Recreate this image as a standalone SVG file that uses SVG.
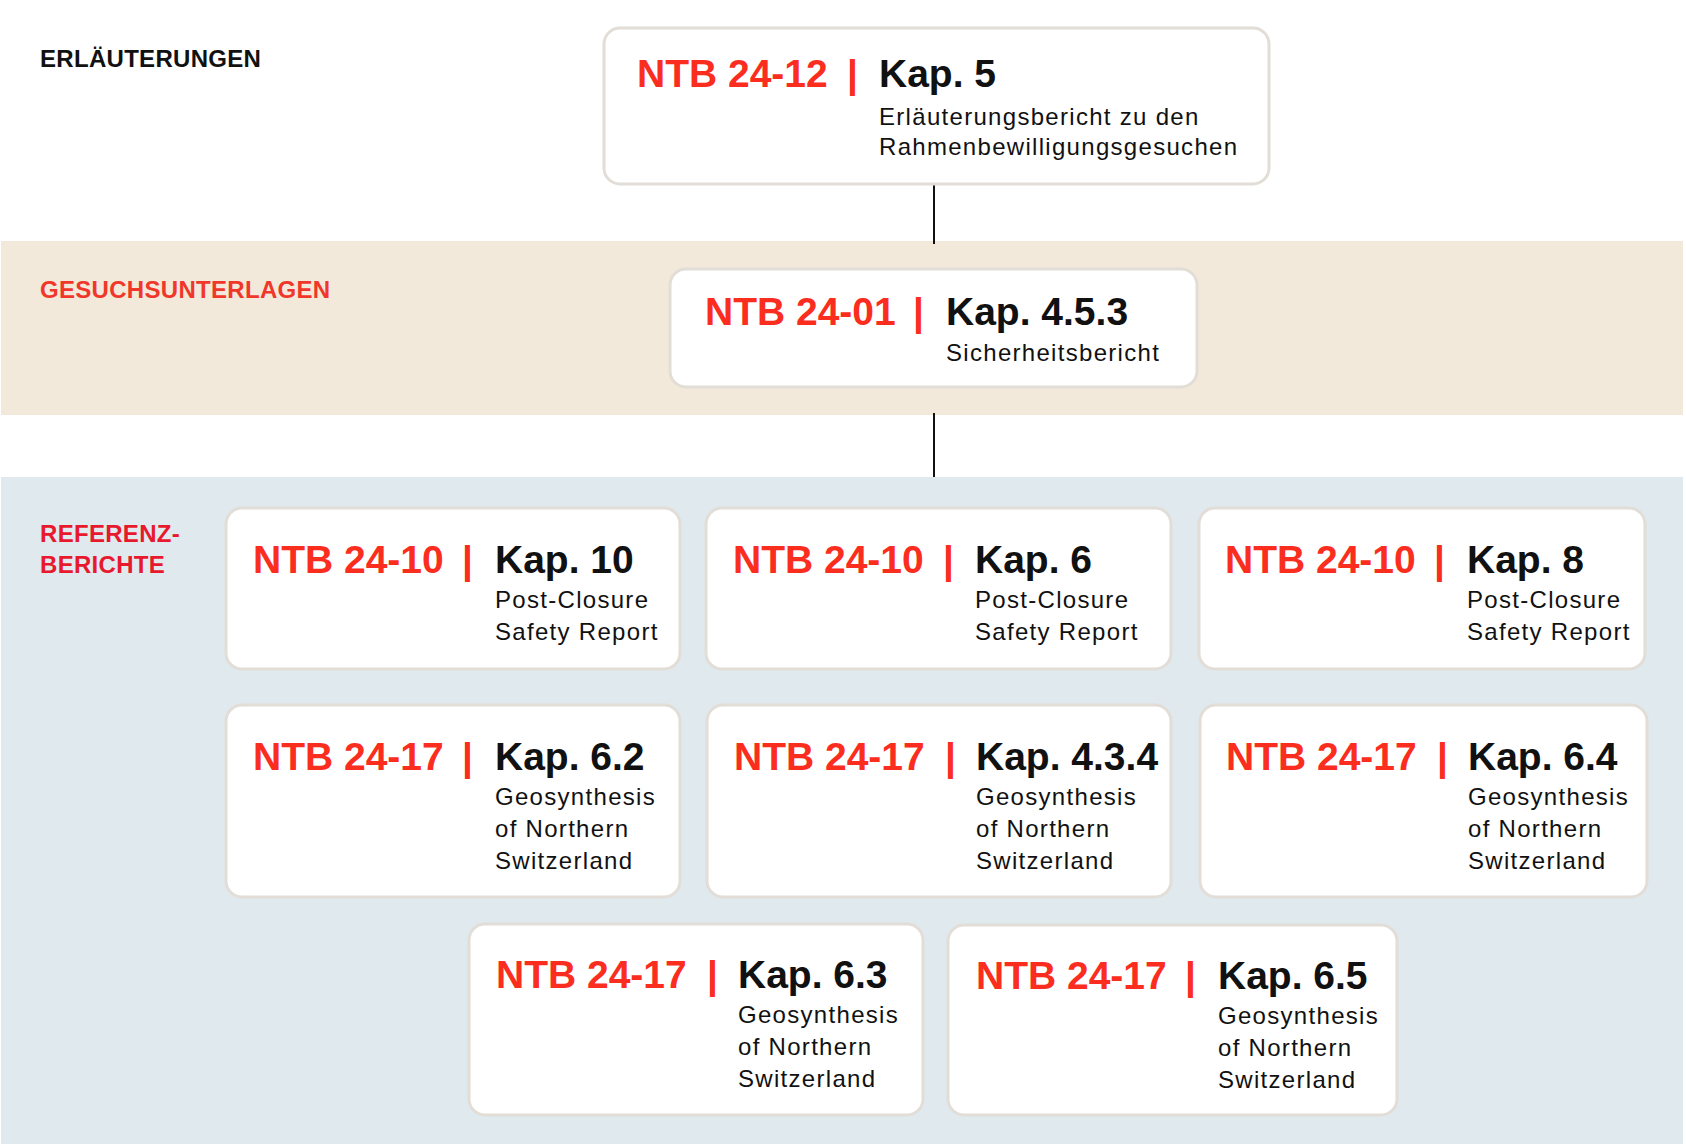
<svg xmlns="http://www.w3.org/2000/svg" width="1686" height="1146" viewBox="0 0 1686 1146">
<style>
.box{fill:#ffffff;stroke:#e2ddd6;stroke-width:3}
.ntb{font-family:"Liberation Sans",Arial,sans-serif;font-weight:bold;font-size:39px;fill:#fa2d1e}
.kap{font-family:"Liberation Sans",Arial,sans-serif;font-weight:bold;font-size:39px;fill:#111111}
.sub{font-family:"Liberation Sans",Arial,sans-serif;font-size:24px;letter-spacing:1.3px;fill:#111111}
.sec{font-family:"Liberation Sans",Arial,sans-serif;font-weight:bold;font-size:24px;letter-spacing:0.3px}
.conn{stroke:#111111;stroke-width:2;fill:none}
</style>
<rect width="1686" height="1146" fill="#ffffff"/>
<g id="bands">
<rect x="1" y="241" width="1682" height="174" fill="#f2e9da"/>
<rect x="1" y="477" width="1682" height="667" fill="#dfe9ee"/>
</g>
<g id="labels">
<text class="sec" x="40" y="67" fill="#111111">ERLÄUTERUNGEN</text>
<text class="sec" x="40" y="298" fill="#f0372a">GESUCHSUNTERLAGEN</text>
<text class="sec" x="40" y="542" fill="#e8192c">REFERENZ-</text>
<text class="sec" x="40" y="573" fill="#e8192c">BERICHTE</text>
</g>
<g id="connectors">
<line class="conn" x1="934" y1="184" x2="934" y2="244"/>
<line class="conn" x1="934" y1="413" x2="934" y2="477"/>
</g>
<g id="node-ntb2412">
<rect class="box" x="604" y="28" width="665" height="156" rx="16"/>
<text class="ntb" x="637" y="87">NTB 24-12</text>
<text class="ntb" x="847" y="87">|</text>
<text class="kap" x="879" y="87">Kap. 5</text>
<text class="sub" x="879" y="125">Erläuterungsbericht zu den</text>
<text class="sub" x="879" y="155">Rahmenbewilligungsgesuchen</text>
</g>
<g id="node-ntb2401">
<rect class="box" x="670" y="269" width="527" height="118" rx="16"/>
<text class="ntb" x="705" y="325">NTB 24-01</text>
<text class="ntb" x="913" y="325">|</text>
<text class="kap" x="946" y="325">Kap. 4.5.3</text>
<text class="sub" x="946" y="361">Sicherheitsbericht</text>
</g>
<g id="node-ntb2410-k10">
<rect class="box" x="226" y="508" width="454" height="161" rx="16"/>
<text class="ntb" x="253" y="573">NTB 24-10</text>
<text class="ntb" x="462" y="573">|</text>
<text class="kap" x="495" y="573">Kap. 10</text>
<text class="sub" x="495" y="608">Post-Closure</text>
<text class="sub" x="495" y="640">Safety Report</text>
</g>
<g id="node-ntb2410-k6">
<rect class="box" x="706" y="508" width="465" height="161" rx="16"/>
<text class="ntb" x="733" y="573">NTB 24-10</text>
<text class="ntb" x="943" y="573">|</text>
<text class="kap" x="975" y="573">Kap. 6</text>
<text class="sub" x="975" y="608">Post-Closure</text>
<text class="sub" x="975" y="640">Safety Report</text>
</g>
<g id="node-ntb2410-k8">
<rect class="box" x="1199" y="508" width="446" height="161" rx="16"/>
<text class="ntb" x="1225" y="573">NTB 24-10</text>
<text class="ntb" x="1434" y="573">|</text>
<text class="kap" x="1467" y="573">Kap. 8</text>
<text class="sub" x="1467" y="608">Post-Closure</text>
<text class="sub" x="1467" y="640">Safety Report</text>
</g>
<g id="node-ntb2417-k62">
<rect class="box" x="226" y="705" width="454" height="192" rx="16"/>
<text class="ntb" x="253" y="770">NTB 24-17</text>
<text class="ntb" x="462" y="770">|</text>
<text class="kap" x="495" y="770">Kap. 6.2</text>
<text class="sub" x="495" y="805">Geosynthesis</text>
<text class="sub" x="495" y="837">of Northern</text>
<text class="sub" x="495" y="869">Switzerland</text>
</g>
<g id="node-ntb2417-k434">
<rect class="box" x="707" y="705" width="464" height="192" rx="16"/>
<text class="ntb" x="734" y="770">NTB 24-17</text>
<text class="ntb" x="945" y="770">|</text>
<text class="kap" x="976" y="770">Kap. 4.3.4</text>
<text class="sub" x="976" y="805">Geosynthesis</text>
<text class="sub" x="976" y="837">of Northern</text>
<text class="sub" x="976" y="869">Switzerland</text>
</g>
<g id="node-ntb2417-k64">
<rect class="box" x="1200" y="705" width="447" height="192" rx="16"/>
<text class="ntb" x="1226" y="770">NTB 24-17</text>
<text class="ntb" x="1437" y="770">|</text>
<text class="kap" x="1468" y="770">Kap. 6.4</text>
<text class="sub" x="1468" y="805">Geosynthesis</text>
<text class="sub" x="1468" y="837">of Northern</text>
<text class="sub" x="1468" y="869">Switzerland</text>
</g>
<g id="node-ntb2417-k63">
<rect class="box" x="469" y="924" width="454" height="191" rx="16"/>
<text class="ntb" x="496" y="988">NTB 24-17</text>
<text class="ntb" x="707" y="988">|</text>
<text class="kap" x="738" y="988">Kap. 6.3</text>
<text class="sub" x="738" y="1023">Geosynthesis</text>
<text class="sub" x="738" y="1055">of Northern</text>
<text class="sub" x="738" y="1087">Switzerland</text>
</g>
<g id="node-ntb2417-k65">
<rect class="box" x="948" y="925" width="449" height="190" rx="16"/>
<text class="ntb" x="976" y="989">NTB 24-17</text>
<text class="ntb" x="1185" y="989">|</text>
<text class="kap" x="1218" y="989">Kap. 6.5</text>
<text class="sub" x="1218" y="1024">Geosynthesis</text>
<text class="sub" x="1218" y="1056">of Northern</text>
<text class="sub" x="1218" y="1088">Switzerland</text>
</g>
</svg>
